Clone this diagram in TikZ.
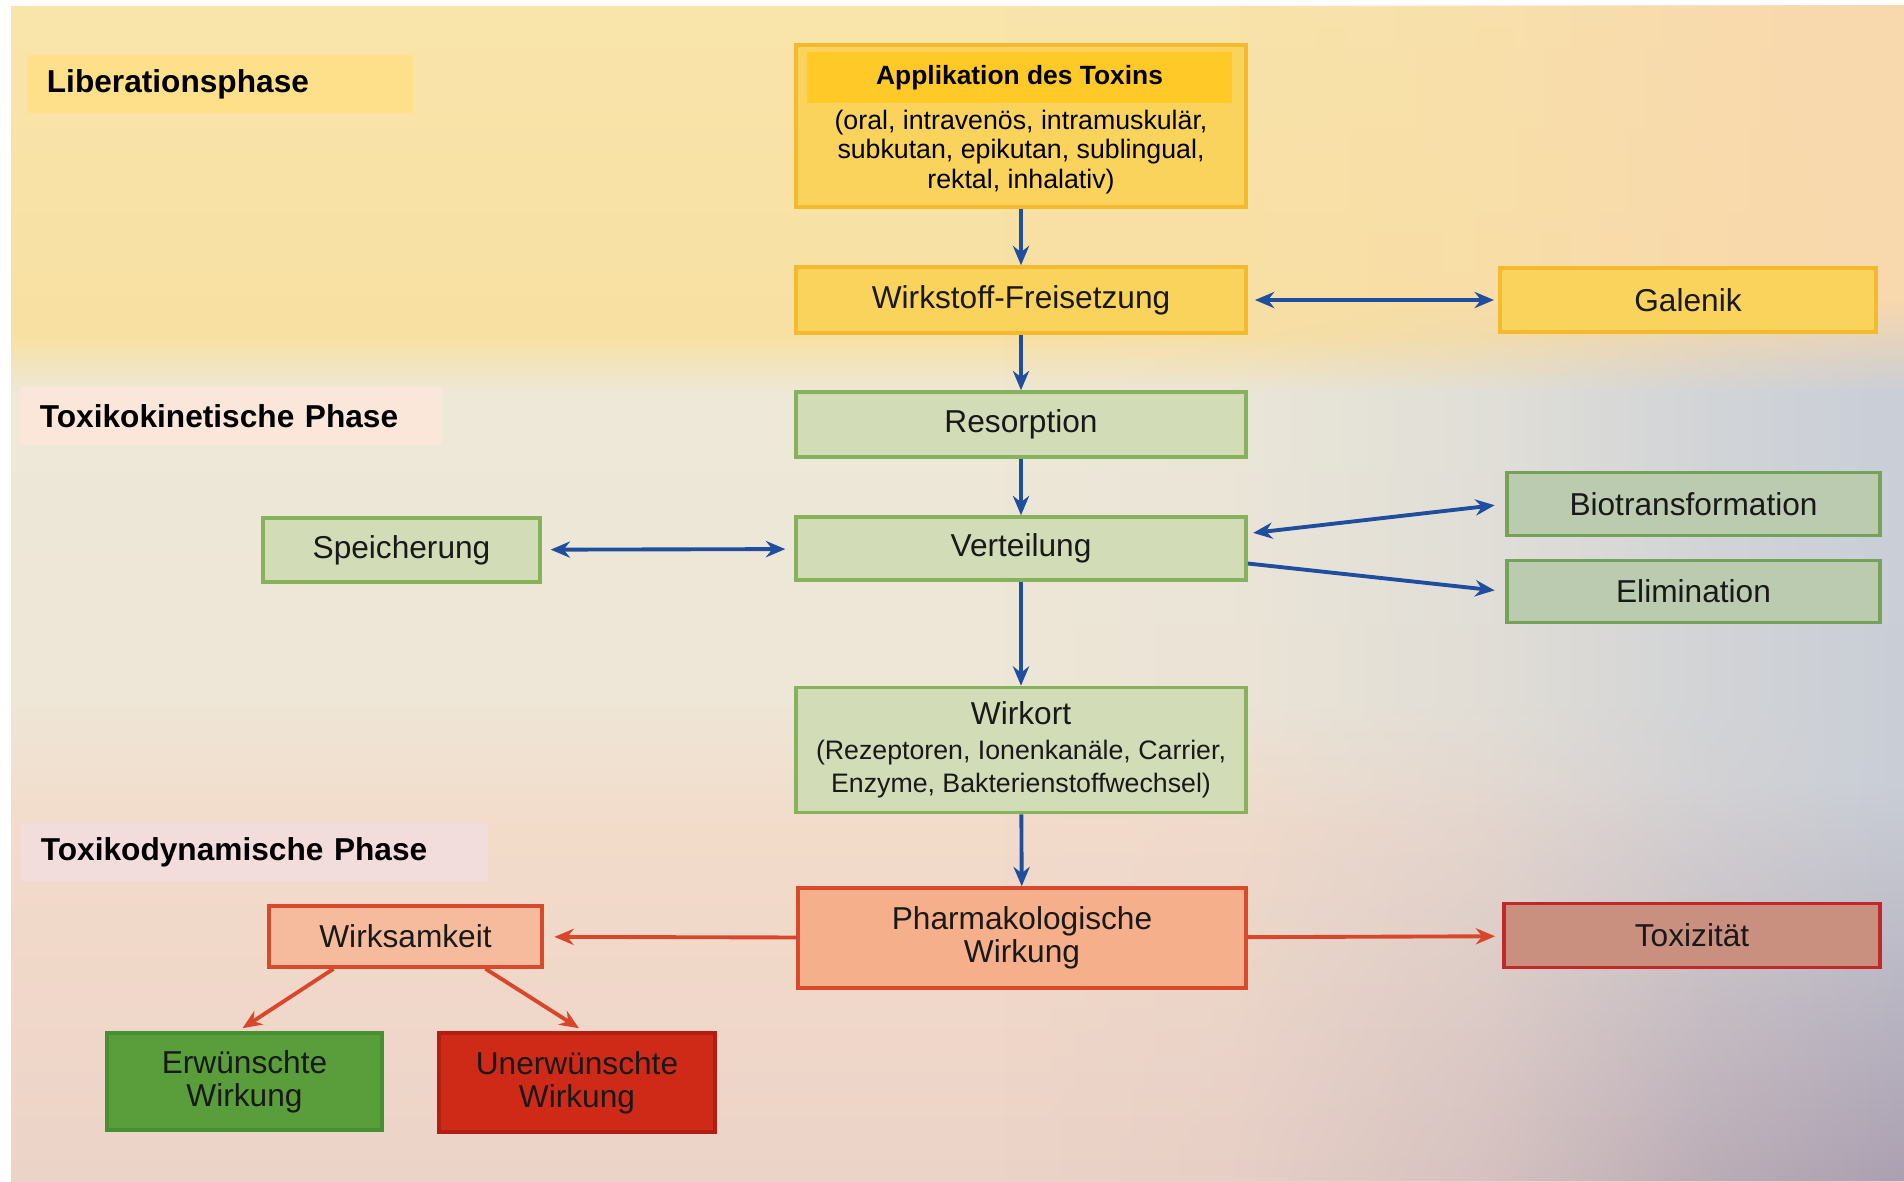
\documentclass[tikz,border=0pt]{standalone}
\usepackage{fontspec}
\setmainfont{Liberation Sans}
\usetikzlibrary{positioning,calc,arrows.meta,fadings}
\definecolor{bgtop}{HTML}{F9E4AA}
\definecolor{bgyel}{HTML}{F8E0A2}
\definecolor{bgmid}{HTML}{EDE8D8}
\definecolor{bgmidb}{HTML}{EEE6D6}
\definecolor{bglow}{HTML}{F3DBCA}
\definecolor{bgbot}{HTML}{ECD3C8}
\definecolor{bgblue}{HTML}{C9CED7}
\definecolor{bgmauve}{HTML}{ABA0B1}
\definecolor{bgpeach}{HTML}{F8D8AE}
\definecolor{gelbfill}{HTML}{FAD35C}
\definecolor{gelbrand}{HTML}{F2BA2C}
\definecolor{bandfill}{HTML}{FFC928}
\definecolor{gruenfill}{HTML}{D2DDB8}
\definecolor{gruenrand}{HTML}{86B25C}
\definecolor{graufill}{HTML}{BACBAF}
\definecolor{graurand}{HTML}{75A158}
\definecolor{lachsfill}{HTML}{F5AF8A}
\definecolor{rotrand}{HTML}{D94A2C}
\definecolor{toxfill}{HTML}{C99080}
\definecolor{toxrand}{HTML}{C0282A}
\definecolor{erwfill}{HTML}{5A9E3C}
\definecolor{erwrand}{HTML}{468F32}
\definecolor{unerwfill}{HTML}{CF2A18}
\definecolor{unerwrand}{HTML}{B41E12}
\definecolor{libfill}{HTML}{FFE08A}
\definecolor{kinfill}{HTML}{FBE7DA}
\definecolor{dynfill}{HTML}{F2DDDC}
\definecolor{pfeilblau}{HTML}{1F4E9E}
\definecolor{pfeilrot}{HTML}{D9472B}
\pgfdeclareverticalshading{paper}{100bp}{color(0bp)=(bgbot); color(25bp)=(bgbot); color(39.9bp)=(bglow); color(45.4bp)=(bgmidb); color(58.5bp)=(bgmid); color(61bp)=(bgyel); color(75bp)=(bgtop); color(100bp)=(bgtop)}
\pgfdeclareverticalshading{rechts}{100bp}{color(0bp)=(bgmauve); color(25bp)=(bgmauve); color(42bp)=(bgblue); color(58.5bp)=(bgblue); color(62.5bp)=(bgpeach); color(75bp)=(bgpeach); color(100bp)=(bgpeach)}
\pgfdeclarehorizontalshading{weichshade}{100bp}{color(0bp)=(pgftransparent!100); color(25bp)=(pgftransparent!100); color(38bp)=(pgftransparent!92); color(52bp)=(pgftransparent!65); color(64bp)=(pgftransparent!25); color(75bp)=(pgftransparent!0); color(100bp)=(pgftransparent!0)}
\pgfdeclarefading{weich}{\pgfuseshading{weichshade}}
\tikzset{>={Stealth[length=5.5pt,width=4.6pt,inset=1.8pt]}}
\tikzset{
  box/.style={draw,line width=1pt,inner sep=0pt,align=center,text=black!90,font=\fontsize{9}{9.4}\selectfont},
  gelb/.style={box,fill=gelbfill,draw=gelbrand},
  gruen/.style={box,fill=gruenfill,draw=gruenrand},
  grau/.style={box,fill=graufill,draw=graurand},
  lachs/.style={box,fill=lachsfill,draw=rotrand},
  phase/.style={inner xsep=0.2cm,inner ysep=0pt,minimum height=0.58cm,align=left,font=\bfseries\fontsize{9}{10}\selectfont},
  klein/.style={inner sep=0pt,align=center,font=\fontsize{7.6}{8.4}\selectfont},
  blau/.style={->,draw=pfeilblau,line width=1.1pt},
  rotpf/.style={->,draw=pfeilrot,line width=1.1pt}
}
\begin{document}
\begin{tikzpicture}[x=0.01cm,y=-0.01cm]
\useasboundingbox (0,0) rectangle (1904,1181);
\fill[white] (0,0) rectangle (1904,1181);
\shade[shading=paper] (11,6) rectangle (1904,1181);
\shade[shading=rechts,path fading=weich] (1000,6) rectangle (1904,1181);

\node[phase,fill=libfill,text width=3.46cm] (lib) at (220,84) {Liberationsphase};
\node[phase,fill=kinfill,text width=3.82cm] (kin) at (231,416) {Toxikokinetische Phase};
\node[phase,fill=dynfill,text width=4.27cm] (dyn) at (254.5,852) {Toxikodynamische Phase};

\node[gelb,minimum width=4.5cm,minimum height=1.62cm] (app) at (1021,126) {};
\node[inner sep=0pt,fill=bandfill,minimum width=4.25cm,minimum height=0.51cm,font=\bfseries\fontsize{7.5}{9}\selectfont] (apphead) at (1019.5,77.5) {Applikation des Toxins};
\node[klein] (appinfo) at (1021,152) {(oral, intravenös, intramuskulär,\\subkutan, epikutan, sublingual,\\rektal, inhalativ)};
\node[gelb,minimum width=4.5cm,minimum height=0.66cm] (frei) at (1021,300) {Wirkstoff-Freisetzung};
\node[gelb,minimum width=3.76cm,minimum height=0.64cm] (gal) at (1688,300) {Galenik};
\node[gruen,minimum width=4.5cm,minimum height=0.65cm] (res) at (1021,424.5) {Resorption};
\node[gruen,minimum width=4.5cm,minimum height=0.63cm] (vert) at (1021,548.5) {Verteilung};
\node[gruen,minimum width=2.77cm,minimum height=0.64cm] (speich) at (401.5,550) {Speicherung};
\node[grau,minimum width=3.73cm,minimum height=0.63cm] (bio) at (1693.5,504) {Biotransformation};
\node[grau,minimum width=3.73cm,minimum height=0.62cm] (elim) at (1693.5,591.5) {Elimination};
\node[gruen,minimum width=4.5cm,minimum height=1.25cm] (ort) at (1021,750) {Wirkort\\[0.4pt]{\fontsize{7.6}{8.5}\selectfont (Rezeptoren, Ionenkanäle, Carrier,}\\{\fontsize{7.6}{8.5}\selectfont Enzyme, Bakterienstoffwechsel)}};
\node[lachs,minimum width=4.48cm,minimum height=1cm] (pharm) at (1022,938) {Pharmakologische\\Wirkung};
\node[box,fill=toxfill,draw=toxrand,minimum width=3.76cm,minimum height=0.64cm] (tox) at (1692,935.5) {Toxizität};
\node[lachs,fill=lachsfill!85!white,minimum width=2.73cm,minimum height=0.61cm] (wirk) at (405.5,936.5) {Wirksamkeit};
\node[box,fill=erwfill,draw=erwrand,minimum width=2.75cm,minimum height=0.97cm] (erw) at (244.5,1081.5) {Erwünschte\\Wirkung};
\node[box,fill=unerwfill,draw=unerwrand,minimum width=2.76cm,minimum height=0.99cm] (unerw) at (577,1082.5) {Unerwünschte\\Wirkung};

\draw[blau] (app) -- (frei);
\draw[blau,<->,shorten <=2pt,shorten >=1.2pt] (frei) -- (gal);
\draw[blau] (frei) -- (res);
\draw[blau] (res) -- (vert);
\draw[blau,<->,shorten <=2.5pt,shorten >=2.5pt] (speich) -- (vert);
\draw[blau,<->,shorten <=1.5pt,shorten >=3pt] ($(vert.east)+(0,-15)$) -- (bio.west);
\draw[blau,shorten >=3pt] ($(vert.east)+(0,15)$) -- (elim.west);
\draw[blau] (vert) -- (ort);
\draw[blau] (ort) -- (pharm);
\draw[rotpf,shorten >=3pt] (pharm) -- (wirk);
\draw[rotpf,shorten >=2pt] (pharm) -- (tox);
\draw[rotpf] ($(wirk.south)+(-72,0)$) -- ($(erw.north)+(-2,-3)$);
\draw[rotpf] ($(wirk.south)+(80,0)$) -- ($(unerw.north)+(2,-3)$);
\end{tikzpicture}
\end{document}
